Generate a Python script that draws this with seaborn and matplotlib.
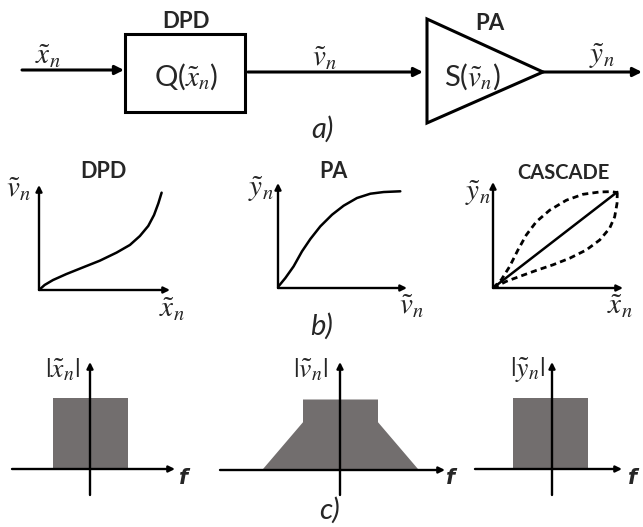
import numpy as np
import pandas as pd
import seaborn as sns
import matplotlib.pyplot as plt
from matplotlib.patches import Rectangle, Polygon

sns.set_theme(style="white")
plt.rcParams['font.family'] = ['Lato', 'DejaVu Sans']
plt.rcParams['mathtext.fontset'] = 'stix'

W, H = 643, 527

# b) transfer curves, as fractions of each axis length
dpd_x = [0, .043, .107, .209, .337, .464, .592, .694, .770, .834, .878, .911, .936]
dpd_y = [0, .048, .095, .152, .216, .279, .356, .429, .514, .610, .714, .825, .927]

pa_x = [0, .057, .121, .186, .251, .328, .419, .509, .612, .716, .819, .948]
pa_y = [.01, .095, .206, .349, .467, .587, .698, .784, .857, .898, .914, .921]

lin_x = [0, .956]
lin_y = [0, .906]
upper_x = [0, .064, .128, .192, .256, .333, .436, .564, .692, .821, .910, .956]
upper_y = [0, .078, .203, .359, .500, .625, .734, .828, .884, .906, .909, .900]
lower_x = [0, .103, .205, .333, .462, .590, .718, .821, .897, .936, .954, .956]
lower_y = [0, .063, .109, .166, .219, .281, .359, .453, .563, .672, .797, .900]

# c) spectra (frequency in half-bandwidths, normalised magnitude)
spec_in_f = [-1.0, -1.0, 1.0, 1.0]
spec_in_a = [0, 1.0, 1.0, 0]
spec_dpd_f = [-2.1, -1.0, -1.0, 1.0, 1.0, 2.1]
spec_dpd_a = [0, 0.68, 1.0, 1.0, 0.68, 0]
spec_out_f = [-1.04, -1.04, 0.96, 0.96]
spec_out_a = [0, 1.0, 1.0, 0]

fig = plt.figure(figsize=(W / 100, H / 100), dpi=100)
fig.patch.set_facecolor('white')

# main canvas in pixel coordinates
ax = fig.add_axes([0, 0, 1, 1])
ax.set_xlim(0, W)
ax.set_ylim(H, 0)
ax.axis('off')

def arrow(a, start, end, lw=2.0, ms=14):
    a.annotate('', xy=end, xytext=start,
               arrowprops=dict(arrowstyle='-|>', color='black', lw=lw,
                               mutation_scale=ms, shrinkA=0, shrinkB=0))

def px_axes(x0, x1, y_top, y_bot):
    a = fig.add_axes([x0 / W, 1 - y_bot / H, (x1 - x0) / W, (y_bot - y_top) / H])
    a.axis('off')
    return a

MATH = 21

# ---- a) block diagram
arrow(ax, (22, 70), (124, 70), lw=2.2, ms=13)
ax.add_patch(Rectangle((125, 34), 120, 78, fill=False, lw=2.2, ec='black'))
arrow(ax, (248, 72), (423, 72), lw=2.2, ms=13)
ax.add_patch(Polygon([(427, 19), (543, 72), (427, 123)], closed=True,
                     fill=False, lw=2.2, ec='black'))
arrow(ax, (543, 72), (642, 72), lw=2.2, ms=13)

ax.text(48, 56, r'$\tilde{x}_n$', fontsize=MATH, ha='center', va='center')
ax.text(325, 58, r'$\tilde{v}_n$', fontsize=MATH, ha='center', va='center')
ax.text(602, 56, r'$\tilde{y}_n$', fontsize=MATH, ha='center', va='center')
ax.text(186, 22, 'DPD', fontsize=16, fontweight='bold', ha='center', va='center')
ax.text(490, 24, 'PA', fontsize=16, fontweight='bold', ha='center', va='center')
ax.text(186, 77, r'Q($\tilde{x}_n$)', fontsize=21, ha='center', va='center')
ax.text(472, 77, r'S($\tilde{v}_n$)', fontsize=21, ha='center', va='center')
ax.text(322, 129, 'a)', fontsize=21, style='italic', ha='center', va='center')

# ---- b) transfer characteristics
def transfer_axes(x0, x1, y_top, y_bot):
    a = px_axes(x0, x1, y_top, y_bot)
    a.set_xlim(0, 1)
    a.set_ylim(0, 1)
    arrow(a, (0, 0), (0, 1), lw=1.7, ms=9)
    arrow(a, (0, 0), (1, 0), lw=1.7, ms=9)
    return a

b1 = transfer_axes(39, 170, 185, 290)
sns.lineplot(x=dpd_x, y=dpd_y, sort=False, color='black', lw=1.8, ax=b1)
b2 = transfer_axes(278, 407, 183, 288)
sns.lineplot(x=pa_x, y=pa_y, sort=False, color='black', lw=1.8, ax=b2)
b3 = transfer_axes(493, 623, 182, 288)
sns.lineplot(x=lin_x, y=lin_y, sort=False, color='black', lw=1.8, ax=b3)
sns.lineplot(x=upper_x, y=upper_y, sort=False, color='black', lw=2.0,
             dashes=False, linestyle=(0, (2.2, 1.5)), ax=b3)
sns.lineplot(x=lower_x, y=lower_y, sort=False, color='black', lw=2.0,
             dashes=False, linestyle=(0, (2.2, 1.5)), ax=b3)

ax.text(103, 172, 'DPD', fontsize=15.5, fontweight='bold', ha='center', va='center')
ax.text(333, 171, 'PA', fontsize=15.5, fontweight='bold', ha='center', va='center')
ax.text(563, 173, 'CASCADE', fontsize=14.5, fontweight='bold', ha='center', va='center')
ax.text(19, 189, r'$\tilde{v}_n$', fontsize=MATH, ha='center', va='center')
ax.text(172, 309, r'$\tilde{x}_n$', fontsize=MATH, ha='center', va='center')
ax.text(261, 189, r'$\tilde{y}_n$', fontsize=MATH, ha='center', va='center')
ax.text(412, 306, r'$\tilde{v}_n$', fontsize=MATH, ha='center', va='center')
ax.text(478, 193, r'$\tilde{y}_n$', fontsize=MATH, ha='center', va='center')
ax.text(620, 306, r'$\tilde{x}_n$', fontsize=MATH, ha='center', va='center',
        zorder=10)
ax.text(322, 326, 'b)', fontsize=21, style='italic', ha='center', va='center')

# ---- c) spectra
SX, SY = 37.5, 71.0  # pixels per unit

def spectrum_axes(cx, base, left, right, freqs, amps):
    xl = ((left - cx) / SX, (right - cx) / SX)
    yl = (-(495 - base) / SY, (base - 362) / SY)
    a = px_axes(left, right, 362, 495)
    a.set_xlim(*xl)
    a.set_ylim(*yl)
    a.fill_between(freqs, amps, 0, color='#726e6e', lw=0)
    arrow(a, (0, yl[0]), (0, yl[1]), lw=1.7, ms=9)
    arrow(a, (xl[0], 0), (xl[1], 0), lw=1.7, ms=9)
    return a

spectrum_axes(90, 469, 12, 175, spec_in_f, spec_in_a)
spectrum_axes(340, 470, 220, 445, spec_dpd_f, spec_dpd_a)
spectrum_axes(552, 469, 475, 622, spec_out_f, spec_out_a)

ax.text(62, 370, r'$|\tilde{x}_n|$', fontsize=20, ha='center', va='center')
ax.text(310, 370, r'$|\tilde{v}_n|$', fontsize=20, ha='center', va='center')
ax.text(527, 370, r'$|\tilde{y}_n|$', fontsize=20, ha='center', va='center')
for fx in (184, 451, 633):
    ax.text(fx, 478, 'f', fontsize=15, style='italic', fontweight='bold',
            family='DejaVu Sans', ha='center', va='center')
ax.text(330, 510, 'c)', fontsize=21, style='italic', ha='center', va='center')

fig.savefig('out.png', dpi=100, facecolor='white')
